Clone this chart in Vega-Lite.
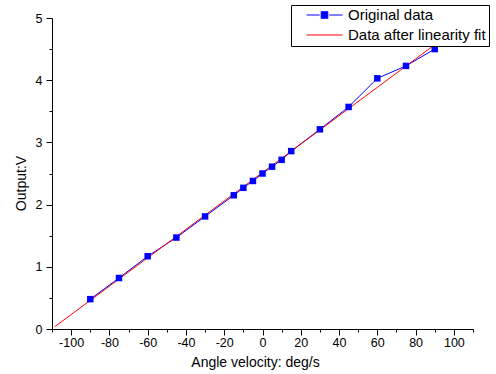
{
  "$schema": "https://vega.github.io/schema/vega-lite/v6.json",
  "width": 421,
  "height": 311,
  "autosize": "none",
  "padding": {"left": 52, "top": 18, "right": 23, "bottom": 45},
  "background": "white",
  "config": {
    "view": {"stroke": null},
    "font": "Liberation Sans",
    "axis": {
      "domainColor": "black",
      "tickColor": "black",
      "labelColor": "black",
      "titleColor": "black",
      "labelFont": "Liberation Sans",
      "titleFont": "Liberation Sans",
      "labelFontSize": 12.5,
      "titleFontSize": 14,
      "titleFontWeight": "normal",
      "grid": false
    }
  },
  "datasets": {
    "orig": [
      {"x": -90, "y": 0.48, "series": "Original data"},
      {"x": -75, "y": 0.82, "series": "Original data"},
      {"x": -60, "y": 1.17, "series": "Original data"},
      {"x": -45, "y": 1.47, "series": "Original data"},
      {"x": -30, "y": 1.81, "series": "Original data"},
      {"x": -15, "y": 2.15, "series": "Original data"},
      {"x": -10, "y": 2.27, "series": "Original data"},
      {"x": -5, "y": 2.38, "series": "Original data"},
      {"x": 0, "y": 2.5, "series": "Original data"},
      {"x": 5, "y": 2.61, "series": "Original data"},
      {"x": 10, "y": 2.72, "series": "Original data"},
      {"x": 15, "y": 2.86, "series": "Original data"},
      {"x": 30, "y": 3.21, "series": "Original data"},
      {"x": 45, "y": 3.57, "series": "Original data"},
      {"x": 60, "y": 4.03, "series": "Original data"},
      {"x": 75, "y": 4.23, "series": "Original data"},
      {"x": 90, "y": 4.5, "series": "Original data"}
    ],
    "fit": [
      {"x": -108.4, "y": 0.04, "series": "Data after linearity fit"},
      {"x": 90, "y": 4.57, "series": "Data after linearity fit"}
    ]
  },
  "resolve": {"axis": {"x": "independent", "y": "independent"}},
  "layer": [
    {
      "data": {"name": "orig"},
      "mark": {"type": "line", "strokeWidth": 1},
      "encoding": {
        "x": {
          "field": "x", "type": "quantitative",
          "scale": {"domain": [-110, 110], "nice": false, "zero": false},
          "axis": {
            "orient": "bottom",
            "title": "Angle velocity: deg/s",
            "values": [-100, -80, -60, -40, -20, 0, 20, 40, 60, 80, 100],
            "labelExpr": "'' + datum.value",
            "tickSize": 6,
            "labelPadding": 1,
            "titleX": 203,
            "titleY": 26,
            "labelFlush": false,
            "labelOverlap": false
          }
        },
        "y": {
          "field": "y", "type": "quantitative",
          "scale": {"domain": [0, 5], "nice": false},
          "axis": {
            "orient": "left",
            "title": "Output:V",
            "values": [0, 1, 2, 3, 4, 5],
            "format": "d",
            "tickSize": 6,
            "labelPadding": 4,
            "titleX": -24,
            "titleY": 165,
            "labelFlush": false,
            "labelOverlap": false
          }
        },
        "color": {
          "field": "series", "type": "nominal",
          "scale": {"domain": ["Original data", "Data after linearity fit"], "range": ["blue", "red"]},
          "legend": {
            "orient": "none",
            "legendX": 239,
            "legendY": -13,
            "title": null,
            "fillColor": "white",
            "strokeColor": "black",
            "padding": 2.5,
            "symbolOffset": 23.5,
            "labelFont": "Liberation Sans",
            "labelFontSize": 15,
            "labelColor": "black",
            "labelOffset": 16,
            "labelLimit": 300,
            "symbolSize": 144,
            "symbolStrokeWidth": 1,
            "rowPadding": 4,
            "encode": {
              "symbols": {
                "update": {
                  "shape": [
                    {"test": "datum.value === 'Original data'", "value": "M-3,0H-0.8M0.8,0H3M-0.55,-0.55H0.55V0.55H-0.55Z"},
                    {"value": "M-3,0H3"}
                  ],
                  "fill": [
                    {"test": "datum.value === 'Original data'", "value": "blue"},
                    {"value": "transparent"}
                  ]
                }
              }
            }
          }
        }
      }
    },
    {
      "data": {"name": "fit"},
      "mark": {"type": "line", "strokeWidth": 1},
      "encoding": {
        "x": {
          "field": "x", "type": "quantitative",
          "axis": {
            "orient": "bottom",
            "title": null,
            "values": [-110, -90, -70, -50, -30, -10, 10, 30, 50, 70, 90, 110],
            "labels": false,
            "domain": false,
            "tickSize": 3
          }
        },
        "y": {
          "field": "y", "type": "quantitative",
          "axis": {
            "orient": "left",
            "title": null,
            "values": [0.5, 1.5, 2.5, 3.5, 4.5],
            "labels": false,
            "domain": false,
            "tickSize": 3
          }
        },
        "color": {"field": "series", "type": "nominal"}
      }
    },
    {
      "data": {"name": "orig"},
      "mark": {"type": "square", "size": 42, "filled": true, "color": "blue", "opacity": 1},
      "encoding": {
        "x": {"field": "x", "type": "quantitative", "axis": null},
        "y": {"field": "y", "type": "quantitative", "axis": null}
      }
    }
  ]
}
